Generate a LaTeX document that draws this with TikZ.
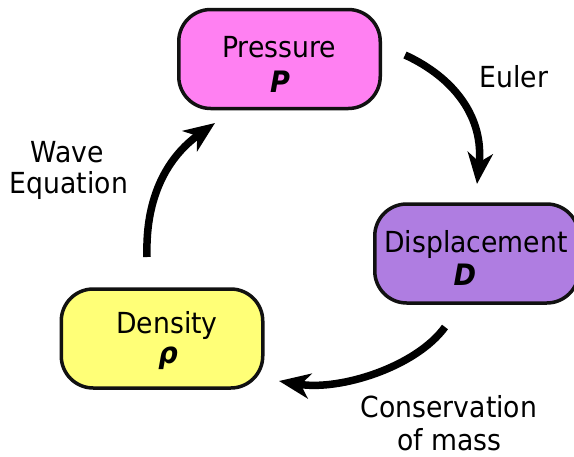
\documentclass[tikz,border=0pt]{standalone}
\usepackage{fontspec}
\setmainfont{DejaVu Sans}[FakeStretch=0.92]
\usetikzlibrary{arrows.meta}
\definecolor{pressfill}{RGB}{255,128,242}
\definecolor{dispfill}{RGB}{175,125,225}
\definecolor{densfill}{RGB}{255,255,119}
\definecolor{edge}{RGB}{17,17,17}
\begin{document}
\begin{tikzpicture}[x=1pt,y=-1pt,
  qty/.style={draw=edge, line width=3.5pt, rounded corners=32pt,
    minimum width=201.5pt, minimum height=99pt, inner sep=0pt},
  lbl/.style={anchor=base, inner sep=0pt, text=black,
    font=\fontsize{29}{33}\selectfont},
  sym/.style={lbl, font=\fontsize{29.5}{33}\selectfont\bfseries\itshape},
  flow/.style={line width=7.5pt, draw=black,
    -{Stealth[length=31pt, width=25pt, inset=9pt]}}]
\useasboundingbox (0,0) rectangle (574,456);

% quantity boxes (the displacement box's right side sits just past the edge)
\node[qty, fill=dispfill, minimum width=204pt] (disp) at (476.75,253.5) {};
\node[qty, fill=pressfill] (press) at (279.5,59) {};
\node[qty, fill=densfill] (dens) at (162,338.5) {};

% box texts
\node[lbl] (pressname) at (279,57) {Pressure};
\node[sym] (presssym) at (280,92) {P};
\node[lbl] (dispname) at (476,252) {Displacement};
\node[sym] (dispsym) at (465,285) {D};
\node[lbl] (densname) at (167,333) {Density};
\node[sym] (denssym) at (168,363) {ρ};

% ends of the flow arrows
\coordinate (e1a) at (405,55);
\coordinate (e1b) at (477,184);
\coordinate (e2a) at (445,327);
\coordinate (e2b) at (279,381);
\coordinate (e3a) at (147,257);
\coordinate (e3b) at (215,123);

\draw[flow] (e1a) .. controls (455,78) and (484,118) .. (e1b);
\draw[flow] (e2a) .. controls (416,367) and (340,391) .. (e2b);
\draw[flow] (e3a) .. controls (145,195) and (169,156) .. (e3b);

% relation labels
\node[lbl] (euler) at (514,87) {Euler};
\node[lbl] (wave1) at (67.5,162) {Wave};
\node[lbl] (wave2) at (69,193) {Equation};
\node[lbl] (cons1) at (449,417) {Conservation};
\node[lbl] (cons2) at (449.5,450) {of mass};
\end{tikzpicture}
\end{document}
